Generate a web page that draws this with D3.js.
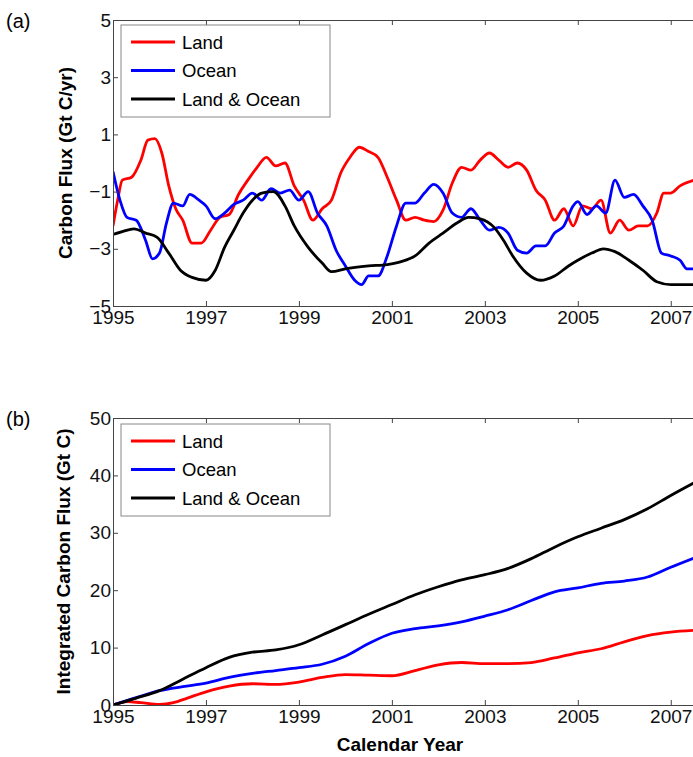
<!DOCTYPE html>
<html><head><meta charset="utf-8">
<script src="https://cdn.jsdelivr.net/npm/d3@7"></script>
<style>body{margin:0;background:#fff}svg{font-family:"Liberation Sans",Arial,sans-serif}</style>
</head><body><svg id="chart" width="693" height="757"></svg>
<script>
// panel (a): flux, pairs [year, value]
var landFlux = [[1995.0,-2.2],[1995.1,-1.3],[1995.2,-0.6],[1995.4,-0.5],[1995.6,0.1],[1995.75,0.8],[1995.9,0.85],[1996.05,0.35],[1996.2,-0.8],[1996.35,-1.6],[1996.5,-2.0],[1996.7,-2.8],[1996.9,-2.8],[1997.1,-2.35],[1997.3,-1.9],[1997.5,-1.8],[1997.7,-1.1],[1997.9,-0.6],[1998.1,-0.15],[1998.3,0.2],[1998.5,-0.1],[1998.7,0],[1998.9,-0.8],[1999.1,-1.3],[1999.3,-2.0],[1999.5,-1.6],[1999.7,-1.3],[1999.9,-0.35],[2000.1,0.2],[2000.3,0.55],[2000.5,0.4],[2000.7,0.2],[2000.9,-0.5],[2001.1,-1.3],[2001.3,-2.0],[2001.5,-1.9],[2001.7,-2.0],[2001.9,-2.05],[2002.1,-1.65],[2002.3,-0.7],[2002.5,-0.15],[2002.7,-0.25],[2002.9,0.1],[2003.1,0.35],[2003.3,0.1],[2003.5,-0.15],[2003.7,0],[2003.9,-0.25],[2004.1,-0.95],[2004.3,-1.3],[2004.5,-2.0],[2004.7,-1.6],[2004.9,-2.2],[2005.1,-1.5],[2005.3,-1.6],[2005.5,-1.3],[2005.7,-2.45],[2005.9,-2.0],[2006.1,-2.35],[2006.3,-2.2],[2006.5,-2.2],[2006.7,-1.75],[2006.85,-1.05],[2007.0,-1.05],[2007.2,-0.8],[2007.5,-0.6]];
var oceanFlux = [[1995.0,-0.3],[1995.15,-1.3],[1995.3,-1.9],[1995.5,-2.0],[1995.7,-2.7],[1995.85,-3.35],[1996.0,-3.15],[1996.15,-2.1],[1996.3,-1.4],[1996.5,-1.5],[1996.65,-1.1],[1996.85,-1.3],[1997.0,-1.5],[1997.2,-1.95],[1997.4,-1.75],[1997.6,-1.45],[1997.8,-1.3],[1998.0,-1.05],[1998.2,-1.3],[1998.4,-0.9],[1998.6,-1.05],[1998.8,-0.95],[1999.0,-1.3],[1999.2,-1.0],[1999.4,-1.75],[1999.6,-2.2],[1999.8,-3.05],[2000.0,-3.6],[2000.2,-4.1],[2000.35,-4.25],[2000.5,-3.95],[2000.7,-3.95],[2000.9,-3.25],[2001.1,-2.2],[2001.3,-1.4],[2001.5,-1.4],[2001.7,-1.05],[2001.9,-0.75],[2002.1,-1.05],[2002.3,-1.75],[2002.5,-1.9],[2002.7,-1.6],[2002.9,-2.0],[2003.1,-2.35],[2003.3,-2.25],[2003.5,-2.45],[2003.7,-3.05],[2003.9,-3.15],[2004.1,-2.9],[2004.3,-2.9],[2004.5,-2.45],[2004.7,-2.2],[2004.9,-1.5],[2005.0,-1.35],[2005.2,-1.8],[2005.4,-1.5],[2005.6,-1.75],[2005.8,-0.6],[2006.0,-1.2],[2006.2,-1.1],[2006.4,-1.5],[2006.6,-2.0],[2006.8,-3.15],[2007.0,-3.25],[2007.2,-3.4],[2007.35,-3.7],[2007.5,-3.7]];
var totalFlux = [[1995.0,-2.5],[1995.2,-2.4],[1995.45,-2.3],[1995.7,-2.45],[1995.95,-2.6],[1996.2,-3.15],[1996.45,-3.75],[1996.7,-4.0],[1997.0,-4.1],[1997.2,-3.75],[1997.4,-2.95],[1997.6,-2.35],[1997.8,-1.75],[1998.0,-1.3],[1998.2,-1.05],[1998.45,-1.0],[1998.7,-1.5],[1998.9,-2.2],[1999.2,-2.95],[1999.5,-3.5],[1999.7,-3.8],[2000.0,-3.7],[2000.5,-3.6],[2000.9,-3.55],[2001.2,-3.45],[2001.5,-3.25],[2001.8,-2.8],[2002.1,-2.45],[2002.4,-2.1],[2002.65,-1.9],[2002.9,-1.95],[2003.2,-2.25],[2003.4,-2.7],[2003.6,-3.25],[2003.9,-3.85],[2004.2,-4.1],[2004.5,-3.95],[2004.8,-3.6],[2005.0,-3.4],[2005.3,-3.15],[2005.55,-3.0],[2005.8,-3.1],[2006.1,-3.4],[2006.4,-3.75],[2006.7,-4.15],[2007.0,-4.25],[2007.5,-4.25]];

// panel (b): integrated flux
var landInt = [[1995,0],[1995.3,0.6],[1995.6,0.4],[1996,0.1],[1996.3,0.4],[1996.6,1.2],[1997,2.3],[1997.5,3.3],[1998,3.7],[1998.5,3.6],[1999,4.0],[1999.5,4.8],[2000,5.3],[2000.5,5.2],[2001,5.1],[2001.5,6],[2002,7],[2002.5,7.4],[2003,7.2],[2003.5,7.2],[2004,7.4],[2004.5,8.2],[2005,9.1],[2005.5,9.8],[2006,11],[2006.5,12.1],[2007,12.7],[2007.5,13]];
var oceanInt = [[1995,0],[1995.5,1.3],[1996,2.5],[1996.5,3.2],[1997,3.8],[1997.5,4.8],[1998,5.5],[1998.5,6],[1999,6.5],[1999.5,7.1],[2000,8.5],[2000.5,10.7],[2001,12.5],[2001.5,13.3],[2002,13.8],[2002.5,14.5],[2003,15.5],[2003.5,16.6],[2004,18.2],[2004.5,19.7],[2005,20.4],[2005.5,21.2],[2006,21.6],[2006.5,22.3],[2007,24],[2007.5,25.6]];
var totalInt = [[1995,0],[1995.5,1.2],[1996,2.5],[1996.5,4.5],[1997,6.5],[1997.5,8.3],[1998,9.2],[1998.5,9.6],[1999,10.5],[1999.5,12.2],[2000,14],[2000.5,15.8],[2001,17.5],[2001.5,19.2],[2002,20.6],[2002.5,21.8],[2003,22.7],[2003.5,23.8],[2004,25.5],[2004.5,27.5],[2005,29.3],[2005.5,30.8],[2006,32.3],[2006.5,34.2],[2007,36.5],[2007.5,38.7]];

var seriesNames = ['Land', 'Ocean', 'Land & Ocean'];
var seriesColors = ['#ff0000', '#0000ff', '#000000'];
var yearTicks = [1995, 1997, 1999, 2001, 2003, 2005, 2007];
var fluxTicks = [-5, -3, -1, 1, 3, 5];
var intTicks = [0, 10, 20, 30, 40, 50];

var svg = d3.select('#chart');
var left = 113, right = 694;

function panel(top, bottom, yDomain, yTicks, data, label, yTitle, yTitleX, legendY) {
  var x = d3.scaleLinear().domain([1995, 2007.5]).range([left, right]);
  var y = d3.scaleLinear().domain(yDomain).range([bottom, top]);
  var g = svg.append('g');

  var clipId = 'clip' + top;
  g.append('clipPath').attr('id', clipId).append('rect')
    .attr('x', left).attr('y', top).attr('width', right - left).attr('height', bottom - top);

  var line = d3.line().x(d => x(d[0])).y(d => y(d[1])).curve(d3.curveMonotoneX);
  data.forEach((s, i) => {
    g.append('path').attr('d', line(s)).attr('fill', 'none')
      .attr('stroke', seriesColors[i]).attr('stroke-width', 2.8)
      .attr('clip-path', 'url(#' + clipId + ')');
  });

  // axes with inward ticks
  var xb = g.append('g').attr('transform', 'translate(0,' + bottom + ')')
    .call(d3.axisBottom(x).tickValues(yearTicks).tickFormat(d3.format('d')).tickSizeInner(-5).tickSizeOuter(0).tickPadding(3));
  g.append('g').attr('transform', 'translate(0,' + top + ')')
    .call(d3.axisTop(x).tickValues(yearTicks).tickFormat('').tickSizeInner(-5).tickSizeOuter(0));
  g.append('g').attr('transform', 'translate(' + left + ',0)')
    .call(d3.axisLeft(y).tickValues(yTicks).tickSizeInner(-5).tickSizeOuter(0).tickPadding(2));
  g.selectAll('.domain').attr('stroke', '#444');
  g.selectAll('.tick line').attr('stroke', '#444');
  g.selectAll('.tick text').attr('font-size', 19).attr('fill', '#111').attr('font-family', '"Liberation Sans",Arial,sans-serif');
  xb.selectAll('.tick text').attr('dy', '0.8em');

  g.append('text').attr('x', 6).attr('y', top + 8).attr('font-size', 20).text(label);
  g.append('text').attr('transform', 'translate(' + yTitleX + ',' + ((top + bottom) / 2) + ') rotate(-90)')
    .attr('text-anchor', 'middle').attr('font-size', 19).attr('font-weight', 'bold').text(yTitle);

  // legend
  var lg = g.append('g');
  lg.append('rect').attr('x', 121).attr('y', legendY).attr('width', 209).attr('height', 92)
    .attr('fill', '#fff').attr('stroke', '#888');
  seriesNames.forEach((n, i) => {
    var ry = legendY + 17 + i * 28.5;
    lg.append('line').attr('x1', 131).attr('x2', 175).attr('y1', ry).attr('y2', ry)
      .attr('stroke', seriesColors[i]).attr('stroke-width', 2.8);
    lg.append('text').attr('x', 182).attr('y', ry + 6.5).attr('font-size', 18.5).text(n);
  });
}

panel(20, 306, [-5, 5], fluxTicks, [landFlux, oceanFlux, totalFlux], '(a)', 'Carbon Flux (Gt C/yr)', 72, 25);
panel(418, 705, [0, 50], intTicks, [landInt, oceanInt, totalInt], '(b)', 'Integrated Carbon Flux (Gt C)', 70, 424);

svg.append('text').attr('x', 400).attr('y', 751).attr('text-anchor', 'middle')
  .attr('font-size', 19).attr('font-weight', 'bold').text('Calendar Year');
</script>
</body></html>
